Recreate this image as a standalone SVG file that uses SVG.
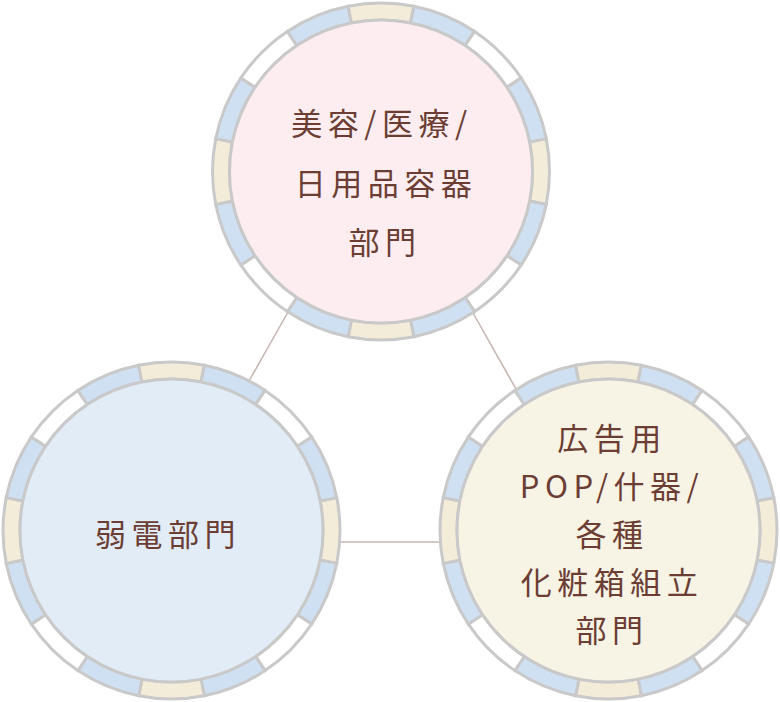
<svg xmlns="http://www.w3.org/2000/svg" width="780" height="702" viewBox="0 0 780 702">
<style>
.seg{stroke:#c9c9c9;stroke-width:3;stroke-linejoin:miter}
.c{fill:#f3ecd9}
.b{fill:#cfe0f2}
.w{fill:#ffffff}
.in{stroke:#c9c9c9;stroke-width:3}
.conn{stroke:#c6b4b1;stroke-width:1.5;fill:none}
.t{font-family:"Noto Sans CJK JP","Noto Sans",sans-serif;font-size:31px;font-weight:400;fill:#6b3d33;text-anchor:middle;letter-spacing:5.5px}
</style>
<defs>
<g id="ring">
<path class="seg c" d="M165.262,-32.873 A168.5,168.5 0 0 1 165.262,32.873 L148.589,29.556 A151.5,151.5 0 0 0 148.589,-29.556 Z"/>
<path class="seg b" d="M165.262,32.873 A168.5,168.5 0 0 1 140.103,93.614 L125.968,84.169 A151.5,151.5 0 0 0 148.589,29.556 Z"/>
<path class="seg w" d="M140.103,93.614 A168.5,168.5 0 0 1 93.614,140.103 L84.169,125.968 A151.5,151.5 0 0 0 125.968,84.169 Z"/>
<path class="seg b" d="M93.614,140.103 A168.5,168.5 0 0 1 32.873,165.262 L29.556,148.589 A151.5,151.5 0 0 0 84.169,125.968 Z"/>
<path class="seg c" d="M32.873,165.262 A168.5,168.5 0 0 1 -32.873,165.262 L-29.556,148.589 A151.5,151.5 0 0 0 29.556,148.589 Z"/>
<path class="seg b" d="M-32.873,165.262 A168.5,168.5 0 0 1 -93.614,140.103 L-84.169,125.968 A151.5,151.5 0 0 0 -29.556,148.589 Z"/>
<path class="seg w" d="M-93.614,140.103 A168.5,168.5 0 0 1 -140.103,93.614 L-125.968,84.169 A151.5,151.5 0 0 0 -84.169,125.968 Z"/>
<path class="seg b" d="M-140.103,93.614 A168.5,168.5 0 0 1 -165.262,32.873 L-148.589,29.556 A151.5,151.5 0 0 0 -125.968,84.169 Z"/>
<path class="seg c" d="M-165.262,32.873 A168.5,168.5 0 0 1 -165.262,-32.873 L-148.589,-29.556 A151.5,151.5 0 0 0 -148.589,29.556 Z"/>
<path class="seg b" d="M-165.262,-32.873 A168.5,168.5 0 0 1 -140.103,-93.614 L-125.968,-84.169 A151.5,151.5 0 0 0 -148.589,-29.556 Z"/>
<path class="seg w" d="M-140.103,-93.614 A168.5,168.5 0 0 1 -93.614,-140.103 L-84.169,-125.968 A151.5,151.5 0 0 0 -125.968,-84.169 Z"/>
<path class="seg b" d="M-93.614,-140.103 A168.5,168.5 0 0 1 -32.873,-165.262 L-29.556,-148.589 A151.5,151.5 0 0 0 -84.169,-125.968 Z"/>
<path class="seg c" d="M-32.873,-165.262 A168.5,168.5 0 0 1 32.873,-165.262 L29.556,-148.589 A151.5,151.5 0 0 0 -29.556,-148.589 Z"/>
<path class="seg b" d="M32.873,-165.262 A168.5,168.5 0 0 1 93.614,-140.103 L84.169,-125.968 A151.5,151.5 0 0 0 29.556,-148.589 Z"/>
<path class="seg w" d="M93.614,-140.103 A168.5,168.5 0 0 1 140.103,-93.614 L125.968,-84.169 A151.5,151.5 0 0 0 84.169,-125.968 Z"/>
<path class="seg b" d="M140.103,-93.614 A168.5,168.5 0 0 1 165.262,-32.873 L148.589,-29.556 A151.5,151.5 0 0 0 125.968,-84.169 Z"/>
</g>
</defs>
<g id="connectors">
<line class="conn" x1="288" y1="312" x2="249" y2="381"/>
<line class="conn" x1="473" y1="313" x2="516" y2="389"/>
<line class="conn" x1="341" y1="542" x2="441" y2="542"/>
</g>
<g id="node-beauty">
<use href="#ring" transform="translate(381,171.5)"/>
<circle class="in" cx="381" cy="171.5" r="151.5" fill="#fdedf0"/>
<text class="t" x="382" y="135">美容/医療/</text>
<text class="t" x="386" y="195">日用品容器</text>
<text class="t" x="385" y="254">部門</text>
</g>
<g id="node-weak">
<use href="#ring" transform="translate(171.5,530.5)"/>
<circle class="in" cx="171.5" cy="530.5" r="151.5" fill="#e2ecf7"/>
<text class="t" x="168" y="546">弱電部門</text>
</g>
<g id="node-ad">
<use href="#ring" transform="translate(608.5,530.5)"/>
<circle class="in" cx="608.5" cy="530.5" r="151.5" fill="#f7f3e5"/>
<text class="t" x="612" y="450">広告用</text>
<text class="t" x="612" y="498">POP/什器/</text>
<text class="t" x="612" y="546">各種</text>
<text class="t" x="612" y="594">化粧箱組立</text>
<text class="t" x="612" y="642">部門</text>
</g>
</svg>
